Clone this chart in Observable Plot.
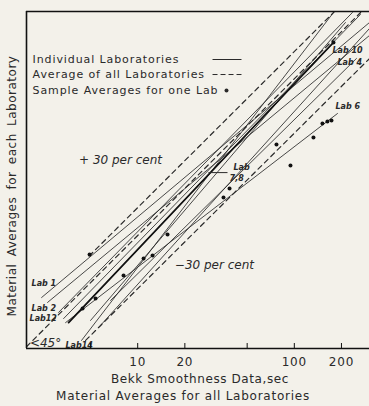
<!DOCTYPE html>
<html><head><meta charset="utf-8">
<script src="https://cdn.jsdelivr.net/npm/d3@7"></script>
<script src="https://cdn.jsdelivr.net/npm/@observablehq/plot@0.6"></script>
<style>
html,body{margin:0;padding:0;background:#f3f1ea;}
#chart svg{display:block;}
</style></head><body><div id="chart"></div>
<script>
// Individual laboratory lines (start and end points, seconds)
const labNames  = ["Lab 1", "Lab 5", "Lab 2", "Lab 12", "Lab 10", "Lab 14", "Lab 6", "Lab 4", "Lab 7", "Lab 8"];
const labStartX = [2.435, 2.659, 3.125, 3.364, 3.620, 4.382, 3.464, 6.709, 5.002, 5.792];
const labStartY = [4.02, 3.74, 3.23, 2.95, 2.78, 2.14, 2.78, 3.85, 2.87, 2.67];
const labEndX   = [301.8, 301.8, 235.0, 264.3, 177.8, 177.8, 188.6, 249.3, 212.0, 301.8];
const labEndY   = [228.7, 189.0, 264.9, 257.3, 170.5, 264.9, 60.05, 134.8, 228.7, 209.4];

// Average of all labs and the +/- 30 per cent limits
const refNames  = ["+30", "avg", "-30"];
const refStartX = [4.9, 1.95, 4.65];
const refStartY = [7.4, 1.95, 2.14];
const refEndX   = [180, 265, 302];
const refEndY   = [268, 265, 134.7];

// Sample averages for one lab
const sampleX = [4.446, 5.383, 8.122, 10.90, 12.44, 15.51, 35.31, 38.58, 76.93, 94.51, 132.5, 151.2, 162.7, 172.7, 4.928, 177.8];
const sampleY = [3.42, 3.96, 5.55, 7.13, 7.45, 10.15, 17.48, 19.95, 38.08, 27.97, 42.21, 51.85, 53.40, 54.19, 7.56, 170.5];

// Lab labels
const labelText = ["Lab 1", "Lab 2", "Lab12", "Lab14", "Lab 10", "Lab 4", "Lab 6", "Lab", "7,8"];
const labelX    = [2.10, 2.10, 2.04, 3.46, 175.2, 188.6, 183.1, 40.9, 38.6];
const labelY    = [4.94, 3.42, 2.95, 1.99, 151.5, 127.1, 66.6, 27.2, 23.1];

const xTicks = [5, 10, 20, 50, 100, 200];
const legendText = ["Individual Laboratories", "Average of all Laboratories", "Sample Averages for one Lab"];
const xTitle1 = "Bekk Smoothness Data,sec";
const xTitle2 = "Material Averages for all Laboratories";
const yTitle = "Material Averages for each Laboratory";

const labs = labNames.flatMap((lab, i) => [
  {lab, x: labStartX[i], y: labStartY[i]},
  {lab, x: labEndX[i], y: labEndY[i]}
]);
const refs = refNames.flatMap((r, i) => [
  {r, x: refStartX[i], y: refStartY[i]},
  {r, x: refEndX[i], y: refEndY[i]}
]);
const samples = sampleX.map((x, i) => ({x, y: sampleY[i]}));
const labels = labelText.map((t, i) => ({t, x: labelX[i], y: labelY[i]}));
const legendY = [132.8, 106.5, 84.2];

const ink = "#2a2a2a";
const chart = Plot.plot({
  width: 369, height: 406,
  marginLeft: 26, marginRight: 0, marginTop: 11, marginBottom: 58,
  style: {background: "transparent", fontFamily: "DejaVu Sans, sans-serif", color: ink},
  x: {type: "log", domain: [1.95, 302]},
  y: {type: "log", domain: [1.9, 268.9], axis: null},
  marks: [
    Plot.line(labs, {x: "x", y: "y", z: "lab", stroke: ink, strokeWidth: 1, strokeOpacity: 0.85, clip: true}),
    Plot.line(labs.filter(d => d.lab === "Lab 10"), {x: "x", y: "y", stroke: "#111", strokeWidth: 1.8, clip: true}),
    Plot.line(refs, {x: "x", y: "y", z: "r", stroke: ink, strokeWidth: 1.2, strokeDasharray: "5,4", clip: true}),
    Plot.dot(samples, {x: "x", y: "y", r: 2, fill: "#111"}),
    Plot.text(labels, {x: "x", y: "y", text: "t", textAnchor: "start", fontStyle: "italic", fontWeight: "bold", fontSize: 8, fill: ink}),
    Plot.link([0], {x1: 28.3, x2: 37.45, y1: 25.2, y2: 25.2, stroke: ink}),
    Plot.text(["+ 30 per cent"], {x: 7.77, y: 30.1, fontStyle: "italic", fontSize: 12, fill: ink}),
    Plot.text(["\u221230 per cent"], {x: 30.9, y: 6.43, fontStyle: "italic", fontSize: 12, fill: ink}),
    Plot.text(["<45\u00b0"], {x: 2.05, y: 2.07, textAnchor: "start", fontStyle: "italic", fontSize: 12, fill: ink}),
    // legend
    Plot.text(legendText, {x: 2.133, y: legendY, text: d => d, textAnchor: "start", fontSize: 11, fill: ink}),
    Plot.link([0], {x1: 30.04, x2: 45.99, y1: 132.8, y2: 132.8, stroke: ink}),
    Plot.link([0], {x1: 30.04, x2: 45.99, y1: 106.5, y2: 106.5, stroke: ink, strokeDasharray: "5,3"}),
    Plot.dot([0], {x: 36.9, y: 84.2, r: 2, fill: ink}),
    // frame
    Plot.ruleX([1.95], {stroke: "#111", strokeWidth: 1.6}),
    Plot.ruleY([1.9, 268.9], {stroke: "#111", strokeWidth: 1.6}),
    Plot.tickX(xTicks, {x: d => d, insetTop: 332, stroke: "#111"}),
    Plot.axisX(xTicks, {tickSize: 0, tickPadding: 9, fontSize: 12, label: null, tickFormat: d => String(d)}),
    Plot.text([xTitle1], {frameAnchor: "bottom", dy: 34, dx: 2, fontSize: 12, fill: ink}),
    Plot.text([xTitle2], {frameAnchor: "bottom", dy: 51, dx: -15, fontSize: 12, fill: ink}),
    Plot.text([yTitle], {frameAnchor: "left", textAnchor: "middle", rotate: -90, dx: -14, dy: 6, fontSize: 12, fill: ink})
  ]
});
const svg = d3.select(chart);
const spacing = new Map([
  [xTitle1, ["0.6px", null]],
  [xTitle2, ["0.75px", null]],
  [yTitle, ["0.5px", "3px"]],
  ...legendText.map(t => [t, ["0.9px", null]])
]);
svg.selectAll("text").each(function() {
  const s = spacing.get(this.textContent);
  if (s) {
    this.style.letterSpacing = s[0];
    if (s[1]) this.style.wordSpacing = s[1];
  }
});
svg.selectAll('[aria-label="x-axis tick label"] text').style("letter-spacing", "0.8px");
document.getElementById("chart").appendChild(chart);
</script></body></html>
